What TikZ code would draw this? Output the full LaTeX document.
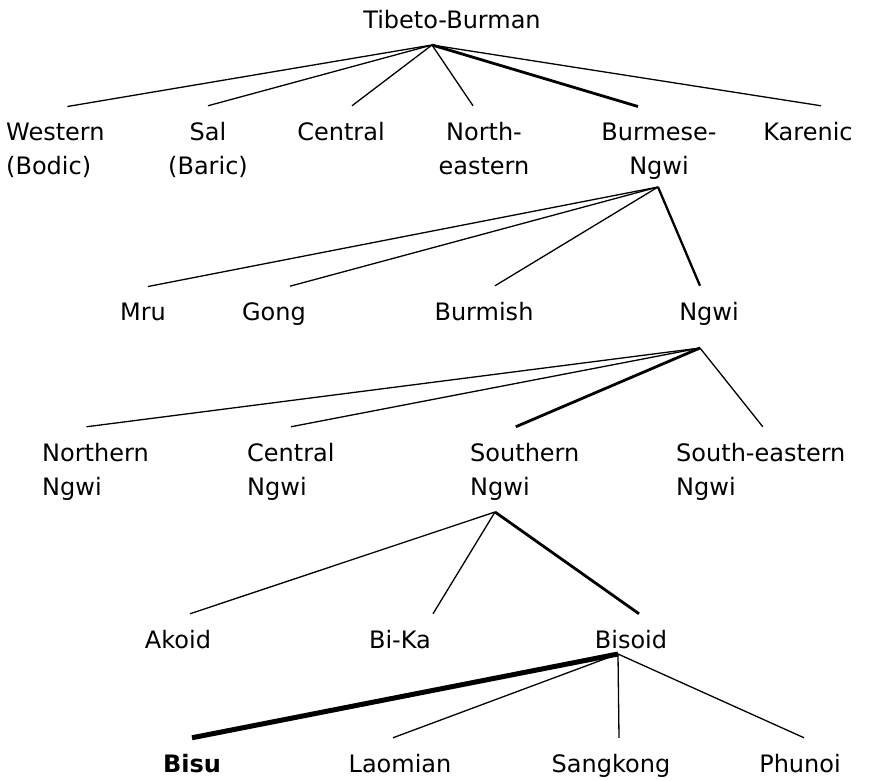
\documentclass[tikz,border=0pt]{standalone}
\usepackage{fontspec}
\setmainfont{DejaVu Sans}
\usepackage{tikz}

\begin{document}
\begin{tikzpicture}[
  x=1pt, y=-1pt,
  font=\fontsize{24}{34}\selectfont,
  lang/.style={inner sep=0pt, outer ysep=16pt, anchor=base},
  langleft/.style={lang, align=left, anchor=base west},
  langmid/.style={lang, align=center},
  branch/.style={line width=1.3pt},
  lineage/.style={line width=2.8pt},
  midline/.style={line width=2.3pt},
  focus/.style={line width=5pt}
]
  \useasboundingbox (0,0) rectangle (873,780);

  % top of the tree (two-line nodes sit on their last line)
  \node[langmid] (tb) at (452,28) {Tibeto-Burman};
  \node[langleft] (western) at (6,174) {Western\\(Bodic)};
  \node[langmid] (sal) at (208,174) {Sal\\(Baric)};
  \node[langmid] (central) at (341,140) {Central};
  \node[langmid] (northeast) at (484,174) {North-\\eastern};
  \node[langmid] (burmngwi) at (659,174) {Burmese-\\Ngwi};
  \node[langmid] (karenic) at (808,140) {Karenic};

  % Burmese-Ngwi
  \node[langmid] (mru) at (143,320) {Mru};
  \node[langmid] (gong) at (274,320) {Gong};
  \node[langmid] (burmish) at (484,320) {Burmish};
  \node[langmid] (ngwi) at (709,320) {Ngwi};

  % Ngwi
  \node[langleft] (northern) at (42,495) {Northern\\Ngwi};
  \node[langleft] (centralngwi) at (247,495) {Central\\Ngwi};
  \node[langleft] (southern) at (470,495) {Southern\\Ngwi};
  \node[langleft] (southeast) at (676,495) {South-eastern\\Ngwi};

  % Southern Ngwi
  \node[langmid] (akoid) at (178,648) {Akoid};
  \node[langmid] (bika) at (400,648) {Bi-Ka};
  \node[langmid] (bisoid) at (631,648) {Bisoid};

  % Bisoid
  \node[langmid, font=\fontsize{24}{34}\selectfont\bfseries] (bisu) at (192,772) {Bisu};
  \node[langmid] (laomian) at (400,772) {Laomian};
  \node[langmid] (sangkong) at (611,772) {Sangkong};
  \node[langmid] (phunoi) at (800,772) {Phunoi};

  % joints
  \coordinate (tb-j) at (432,45);
  \coordinate (burmngwi-j) at (658,187);
  \coordinate (ngwi-j) at (700,348);
  \coordinate (southern-j) at (495,512);
  \coordinate (bisoid-j) at (618,654);

  \draw[branch] (tb-j) -- ([xshift=12pt]western.north);
  \draw[branch] (tb-j) -- (sal.north);
  \draw[branch] (tb-j) -- ([xshift=11pt]central.north);
  \draw[branch] (tb-j) -- ([xshift=-11pt]northeast.north);
  \draw[lineage] (tb-j) -- ([xshift=-21pt]burmngwi.north);
  \draw[branch] (tb-j) -- ([xshift=13pt]karenic.north);

  \draw[branch] (burmngwi-j) -- ([xshift=5pt]mru.north);
  \draw[branch] (burmngwi-j) -- ([xshift=16pt]gong.north);
  \draw[branch] (burmngwi-j) -- ([xshift=11pt]burmish.north);
  \draw[midline] (burmngwi-j) -- ([xshift=-9pt]ngwi.north);

  \draw[branch] (ngwi-j) -- ([xshift=-9pt]northern.north);
  \draw[branch] (ngwi-j) -- (centralngwi.north);
  \draw[lineage] (ngwi-j) -- ([xshift=-9pt]southern.north);
  \draw[branch] (ngwi-j) -- ([xshift=2pt]southeast.north);

  \draw[branch] (southern-j) -- ([xshift=12pt]akoid.north);
  \draw[branch] (southern-j) -- ([xshift=33pt]bika.north);
  \draw[lineage] (southern-j) -- ([xshift=8pt]bisoid.north);

  \draw[focus] (bisoid-j) -- (bisu.north);
  \draw[branch] (bisoid-j) -- ([xshift=-7pt]laomian.north);
  \draw[branch] (bisoid-j) -- ([xshift=8pt]sangkong.north);
  \draw[branch] (bisoid-j) -- ([xshift=4pt]phunoi.north);
\end{tikzpicture}
\end{document}
